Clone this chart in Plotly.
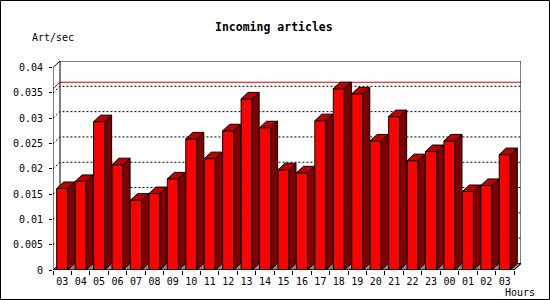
import plotly.graph_objects as go

# ---- data ----
hours = ["03", "04", "05", "06", "07", "08", "09", "10", "11", "12", "13", "14", "15",
         "16", "17", "18", "19", "20", "21", "22", "23", "00", "01", "02", "03"]
art_per_sec = [0.0161, 0.0175, 0.0293, 0.0208, 0.0138, 0.0151, 0.0180, 0.0259, 0.0220,
               0.0275, 0.0338, 0.0281, 0.0198, 0.0192, 0.0295, 0.0358, 0.0348, 0.0255,
               0.0303, 0.0216, 0.0234, 0.0255, 0.0155, 0.0167, 0.0228]
y_ticks = [0, 0.005, 0.01, 0.015, 0.02, 0.025, 0.03, 0.035, 0.04]
y_ticktext = ["0", "0.005", "0.01", "0.015", "0.02", "0.025", "0.03", "0.035", "0.04"]
title_text = "Incoming articles"
y_title = "Art/sec"
x_title = "Hours"

# ---- geometry ----
W, H = 550, 300
ML, MR, MT, MB = 53, 29, 61, 30
PW, PH = W - ML - MR, H - MT - MB
N = len(hours)
YMAX = 0.04
DXP, DYP = 7, 6.5                      # 3d depth in pixels
XR = N * PW / (PW - DXP)               # x range end so that N + DX hits the right edge
DX = XR - N
YR = YMAX * PH / (PH - DYP)
DY = YR - YMAX
BW = 0.6

def pxx(x):
    return (x - ML) / PW

def pxy(y):
    return (MT + PH - y) / PH

FONT = "DejaVu Sans Mono"
RED, SIDE, TOP, FLOOR = "#ff0000", "#800000", "#c00000", "#8c8c8c"

shapes = []
# floor
shapes.append(dict(type="path", layer="below", xref="x", yref="y",
                   path=f"M0,0 L{N},0 L{N+DX},{DY} L{DX},{DY} Z",
                   fillcolor=FLOOR, line=dict(color="black", width=1)))
# dotted grid lines on left + back wall
for v in y_ticks[1:-1]:
    shapes.append(dict(type="path", layer="below", xref="x", yref="y",
                       path=f"M0,{v} L{DX},{v+DY} L{N+DX},{v+DY}",
                       line=dict(color="black", width=1, dash="2px,2px")))
# max line
vmax = max(art_per_sec)
shapes.append(dict(type="path", layer="below", xref="x", yref="y",
                   path=f"M0,{vmax} L{DX},{vmax+DY} L{N+DX},{vmax+DY}",
                   line=dict(color="#e00000", width=1)))
# back wall frame
shapes.append(dict(type="path", layer="below", xref="x", yref="y",
                   path=f"M{DX},{DY} L{DX},{YMAX+DY} L{N+DX},{YMAX+DY} L{N+DX},{DY}",
                   line=dict(color="black", width=1)))
shapes.append(dict(type="path", layer="below", xref="x", yref="y",
                   path=f"M0,{YMAX} L{DX},{YMAX+DY}",
                   line=dict(color="black", width=1)))
# front axes
shapes.append(dict(type="path", layer="above", xref="x", yref="y",
                   path=f"M0,{YMAX} L0,0 L{N},0 L{N+DX},{DY}",
                   line=dict(color="black", width=1)))
# image border
shapes.append(dict(type="rect", xref="paper", yref="paper",
                   x0=pxx(0.5), x1=pxx(549.5), y0=pxy(299.5), y1=pxy(0.5),
                   line=dict(color="black", width=1)))

# side and top faces
sx, sy, tx, ty = [], [], [], []
for i, v in enumerate(art_per_sec):
    xl = i + 0.5 - BW / 2
    xr = i + 0.5 + BW / 2
    sx += [xr, xr + DX, xr + DX, xr, xr, None]
    sy += [0, DY, v + DY, v, 0, None]
    tx += [xl, xl + DX, xr + DX, xr, xl, None]
    ty += [v, v + DY, v + DY, v, v, None]

fig = go.Figure()
fig.add_trace(go.Bar(x=[i + 0.5 for i in range(N)], y=art_per_sec, width=BW,
                     marker=dict(color=RED, line=dict(color="black", width=1)),
                     hoverinfo="skip"))
fig.add_trace(go.Scatter(x=sx, y=sy, mode="lines", fill="toself", fillcolor=SIDE,
                         line=dict(color="black", width=1), hoverinfo="skip"))
fig.add_trace(go.Scatter(x=tx, y=ty, mode="lines", fill="toself", fillcolor=TOP,
                         line=dict(color="black", width=1), hoverinfo="skip"))

annotations = [
    dict(text=f"<b>{title_text}</b>", x=pxx(274), y=pxy(27), xref="paper", yref="paper",
         showarrow=False, xanchor="center", yanchor="middle",
         font=dict(family=FONT, size=11.5, color="black")),
    dict(text=y_title, x=pxx(30), y=pxy(37), xref="paper", yref="paper",
         showarrow=False, xanchor="left", yanchor="middle",
         font=dict(family=FONT, size=10, color="black")),
    dict(text=x_title, x=pxx(519.5), y=pxy(292), xref="paper", yref="paper",
         showarrow=False, xanchor="center", yanchor="middle",
         font=dict(family=FONT, size=10, color="black")),
]

fig.update_layout(
    width=W, height=H, margin=dict(l=ML, r=MR, t=MT, b=MB, pad=0),
    paper_bgcolor="white", plot_bgcolor="white", showlegend=False,
    shapes=shapes, annotations=annotations,
    font=dict(family=FONT, size=10, color="black"),
    xaxis=dict(range=[0, XR], showgrid=False, zeroline=False, showline=False,
               tickmode="array", tickvals=[i + 0.5 for i in range(N)], ticktext=hours,
               ticks="", ticklabelstandoff=4,
               minor=dict(tickmode="linear", tick0=0, dtick=1, ticks="outside",
                          ticklen=4, tickcolor="black", tickwidth=1),
               tickfont=dict(family=FONT, size=10, color="black"), fixedrange=True),
    yaxis=dict(range=[0, YR], showgrid=False, zeroline=False, showline=False,
               tickmode="array", tickvals=y_ticks, ticktext=y_ticktext,
               ticks="outside", ticklen=3, tickcolor="black", tickwidth=1,
               ticklabelstandoff=4,
               tickfont=dict(family=FONT, size=10, color="black"), fixedrange=True),
)

fig.write_html("out.html", config={"displayModeBar": False})
